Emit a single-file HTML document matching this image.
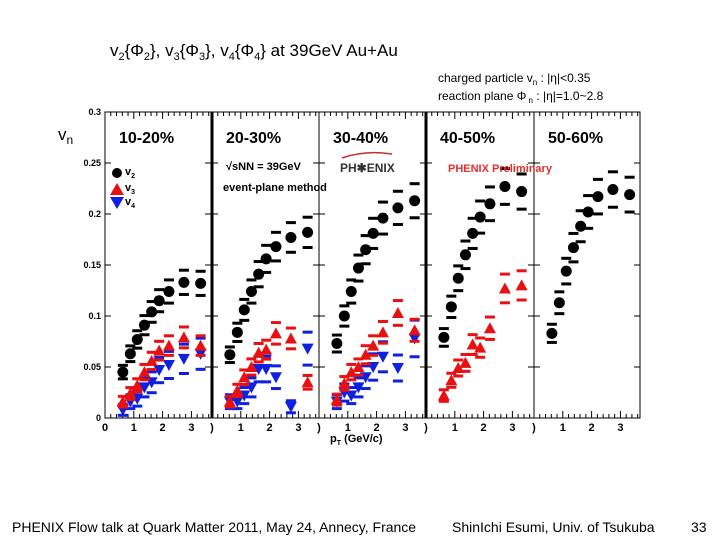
<!DOCTYPE html>
<html><head><meta charset="utf-8"><style>
body{margin:0;background:#fff;}
svg{display:block;font-family:"Liberation Sans",Arial,sans-serif;}
</style></head><body>
<svg id="c" width="720" height="540" viewBox="0 0 720 540">
<text x="110" y="56" font-size="17">v<tspan font-size="11" dy="4">2</tspan><tspan dy="-4">{Φ</tspan><tspan font-size="11" dy="4">2</tspan><tspan dy="-4">}, v</tspan><tspan font-size="11" dy="4">3</tspan><tspan dy="-4">{Φ</tspan><tspan font-size="11" dy="4">3</tspan><tspan dy="-4">}, v</tspan><tspan font-size="11" dy="4">4</tspan><tspan dy="-4">{Φ</tspan><tspan font-size="11" dy="4">4</tspan><tspan dy="-4">} at 39GeV Au+Au</tspan></text>
<text x="438" y="82" font-size="12">charged particle v<tspan font-size="8" dy="3">n</tspan><tspan dy="-3"> : |η|&lt;0.35</tspan></text>
<text x="438" y="100" font-size="12">reaction plane Φ<tspan font-size="8" dy="3"> n</tspan><tspan dy="-3"> : |η|=1.0~2.8</tspan></text>
<text x="58" y="140" font-size="17">v<tspan font-size="12" dy="4">n</tspan></text>
<g id="plot"></g>
<text x="12" y="532" font-size="14">PHENIX Flow talk at Quark Matter 2011, May 24, Annecy, France</text>
<text x="452" y="532" font-size="14">ShinIchi Esumi, Univ. of Tsukuba</text>
<text x="691" y="532" font-size="14">33</text>
</svg>
<script>
const centralities=["10-20%","20-30%","30-40%","40-50%","50-60%"];
const ptValues=[0.62,0.88,1.12,1.37,1.62,1.88,2.22,2.74,3.32];
const yTicks=[0,0.05,0.1,0.15,0.2,0.25,0.3];
const yTickLabels=["0","0.05","0.1","0.15","0.2","0.25","0.3"];
const xTicks=[0,1,2,3];
const v2Data=[
[0.045,0.063,0.077,0.091,0.104,0.115,0.124,0.133,0.132],
[0.062,0.084,0.106,0.124,0.141,0.156,0.168,0.177,0.182],
[0.073,0.100,0.124,0.147,0.165,0.181,0.196,0.206,0.213],
[0.079,0.109,0.137,0.160,0.181,0.197,0.210,0.227,0.222],
[0.083,0.113,0.144,0.167,0.188,0.202,0.217,0.224,0.219]];
const v3Data=[
[0.016,0.024,0.032,0.045,0.056,0.066,0.071,0.079,0.071],
[0.016,0.027,0.040,0.050,0.064,0.067,0.083,0.078,0.035],
[0.018,0.034,0.045,0.050,0.062,0.071,0.084,0.103,0.086],
[0.022,0.037,0.049,0.054,0.072,0.069,0.088,0.127,0.130],
null];
const v4Data=[
[0.008,0.016,0.019,0.030,0.035,0.047,0.052,0.058,0.063],
[0.016,0.016,0.022,0.030,0.048,0.048,0.040,0.011,0.068],
[0.016,0.025,0.022,0.030,0.040,0.050,0.060,0.049,0.078],
null,null];
const sysRel={v2:0.06,v3:0.08,v4:0.18};
const NS="http://www.w3.org/2000/svg";
const g=document.getElementById('plot');
const Y0=418,YS=1020,PX=[105,212,319,426,534],PW=[106,107,107,108,106],XS=28.8;
function yOf(v){return Y0-v*YS;}
function xOf(p,pt){return PX[p]+pt*XS;}
function mk(t,a,par){const e=document.createElementNS(NS,t);for(const k in a)e.setAttribute(k,a[k]);(par||g).appendChild(e);return e;}
for(let p=0;p<5;p++){
  const pg=mk('g',{});
  
  
  const x0=PX[p],x1=PX[p]+PW[p];
  mk('rect',{x:x0,y:yOf(0.3),width:PW[p],height:YS*0.3,fill:'none',stroke:'#000','stroke-width':1},pg);
  if(p==1||p==3){mk('line',{x1:x0,x2:x0,y1:yOf(0.3),y2:Y0,stroke:'#000','stroke-width':3},pg);}
  for(let i=0;i<yTicks.length;i++){
    mk('line',{x1:x0,x2:x0+6,y1:yOf(yTicks[i]),y2:yOf(yTicks[i]),stroke:'#000'},pg);
    mk('line',{x1:x1-6,x2:x1,y1:yOf(yTicks[i]),y2:yOf(yTicks[i]),stroke:'#000'},pg);
  }
  for(let t=0;t<3.7;t+=0.2){
    const len=(Math.abs(t-Math.round(t))<0.01)?7:4;
    mk('line',{x1:xOf(p,t),x2:xOf(p,t),y1:Y0,y2:Y0-len,stroke:'#000'},pg);
    mk('line',{x1:xOf(p,t),x2:xOf(p,t),y1:yOf(0.3),y2:yOf(0.3)+len,stroke:'#000'},pg);
  }
  xTicks.forEach(t=>{
    const tx=mk('text',{x:xOf(p,t),y:431,'font-size':11,'font-weight':'bold','text-anchor':'middle'},pg);
    tx.textContent=(t==0&&p>0)?')':String(t);
    
    
  });
  const lab=mk('text',{x:x0+14,y:143,'font-size':16,'font-weight':'bold'},pg);
  lab.textContent=centralities[p];
  
  
  const series=[['v4',v4Data[p],'#1020e0'],['v3',v3Data[p],'#e81010'],['v2',v2Data[p],'#000']];
  series.forEach(([nm,arr,col])=>{
    if(!arr)return;
    arr.forEach((v,i)=>{
      const cx=xOf(p,ptValues[i]),cy=yOf(v),s=v*sysRel[nm]*YS+4;
      mk('rect',{x:cx-5,y:cy-s-1.5,width:10,height:3,fill:col},pg);
      mk('rect',{x:cx-5,y:cy+s-1.5,width:10,height:3,fill:col},pg);
      let m;
      if(nm=='v2') m=mk('circle',{cx:cx,cy:cy,r:5.5,fill:col},pg);
      else if(nm=='v3') m=mk('path',{d:`M${cx-6},${cy+5}L${cx+6},${cy+5}L${cx},${cy-6}Z`,fill:col},pg);
      else m=mk('path',{d:`M${cx-6},${cy-5}L${cx+6},${cy-5}L${cx},${cy+6}Z`,fill:col},pg);
      
      
    });
  });
}
yTicks.forEach((t,i)=>{
  const tx=mk('text',{x:101,y:yOf(t)+3,'font-size':9,'font-weight':'bold','text-anchor':'end'});
  tx.textContent=yTickLabels[i];
  
  
});
const leg=[['v2','#000',177],['v3','#e81010',193],['v4','#1020e0',207]];
leg.forEach(([n,c,y])=>{
  const lg=mk('g',{});
  
  
  const x=117;
  if(n=='v2')mk('circle',{cx:x,cy:y-4,r:5,fill:c},lg);
  else if(n=='v3')mk('path',{d:`M${x-7},${y+2}L${x+7},${y+2}L${x},${y-10}Z`,fill:c},lg);
  else mk('path',{d:`M${x-7},${y-10}L${x+7},${y-10}L${x},${y+2}Z`,fill:c},lg);
  const t=mk('text',{x:x+8,y:y-2,'font-size':11,'font-weight':'bold'},lg);
  t.textContent='v';const ts=mk('tspan',{'font-size':7,dy:3},t);ts.textContent=n[1];
});
function txt(x,y,s,str,attrs,name){const t=mk('text',Object.assign({x:x,y:y,'font-size':s,'font-weight':'bold'},attrs||{}));t.textContent=str;return t;}
txt(226,170,11,'√sNN = 39GeV',{},'energy-label');
txt(223,191,11,'event-plane method',{},'method-label');
txt(340,172,12,'PH✱ENIX',{fill:'#333'},'phenix-logo');
mk('path',{d:'M342,158 Q365,150 392,154',stroke:'#c03030',fill:'none','stroke-width':1.5});
txt(448,172,11,'PHENIX Preliminary',{fill:'#e03030'},'preliminary-label');
const xt=txt(330,442,11,'p',{},'x-axis-title');
const s1=mk('tspan',{'font-size':7,dy:3},xt);s1.textContent='T';
const s2=mk('tspan',{dy:-3},xt);s2.textContent=' (GeV/c)';
</script>
</body></html>
